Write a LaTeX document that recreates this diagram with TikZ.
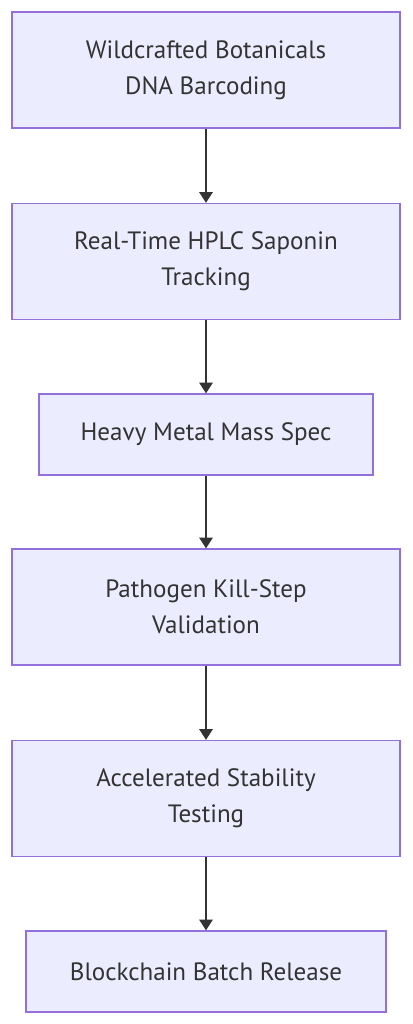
\documentclass[tikz,border=0pt]{standalone}
\usepackage{fontspec}
\setmainfont{PT Sans}
\usetikzlibrary{arrows.meta}
\usetikzlibrary{positioning}
\definecolor{boxfill}{HTML}{ECECFF}
\definecolor{boxline}{HTML}{9370DB}
\definecolor{arrowgray}{HTML}{333333}
\definecolor{textgray}{HTML}{333333}

\begin{document}
\begin{tikzpicture}[
			x=0.75pt, y=-0.75pt,
			every node/.style={font=\fontsize{18.8}{27}\selectfont, text=textgray},
			stage/.style={draw=boxline, fill=boxfill, line width=1pt, align=center, inner sep=0pt, minimum height=87pt},
			flow/.style={draw=arrowgray, line width=1.3pt, -{Triangle[length=8pt,width=10pt]}}
		]

		\useasboundingbox (0,0) rectangle (412,1024);

		% draw the six stages
		\node[stage, minimum width=291pt] (dna) at (206,70) {Wildcrafted Botanicals\\DNA Barcoding};
		\node[stage, minimum width=291pt] (hplc) at (206,261.5) {Real-Time HPLC Saponin\\Tracking};
		\node[stage, minimum width=250.5pt, minimum height=60.75pt] (metal) at (206,434.5) {Heavy Metal Mass Spec};
		\node[stage, minimum width=291pt] (kill) at (206,607) {Pathogen Kill-Step\\Validation};
		\node[stage, minimum width=291pt] (stab) at (206,798.5) {Accelerated Stability\\Testing};
		\node[stage, minimum width=270pt, minimum height=60.75pt] (chain) at (206,971.5) {Blockchain Batch Release};

		% connect the stages
		\draw[flow] (dna) -- (hplc);
		\draw[flow] (hplc) -- (metal);
		\draw[flow] (metal) -- (kill);
		\draw[flow] (kill) -- (stab);
		\draw[flow] (stab) -- (chain);

	\end{tikzpicture}
\end{document}
